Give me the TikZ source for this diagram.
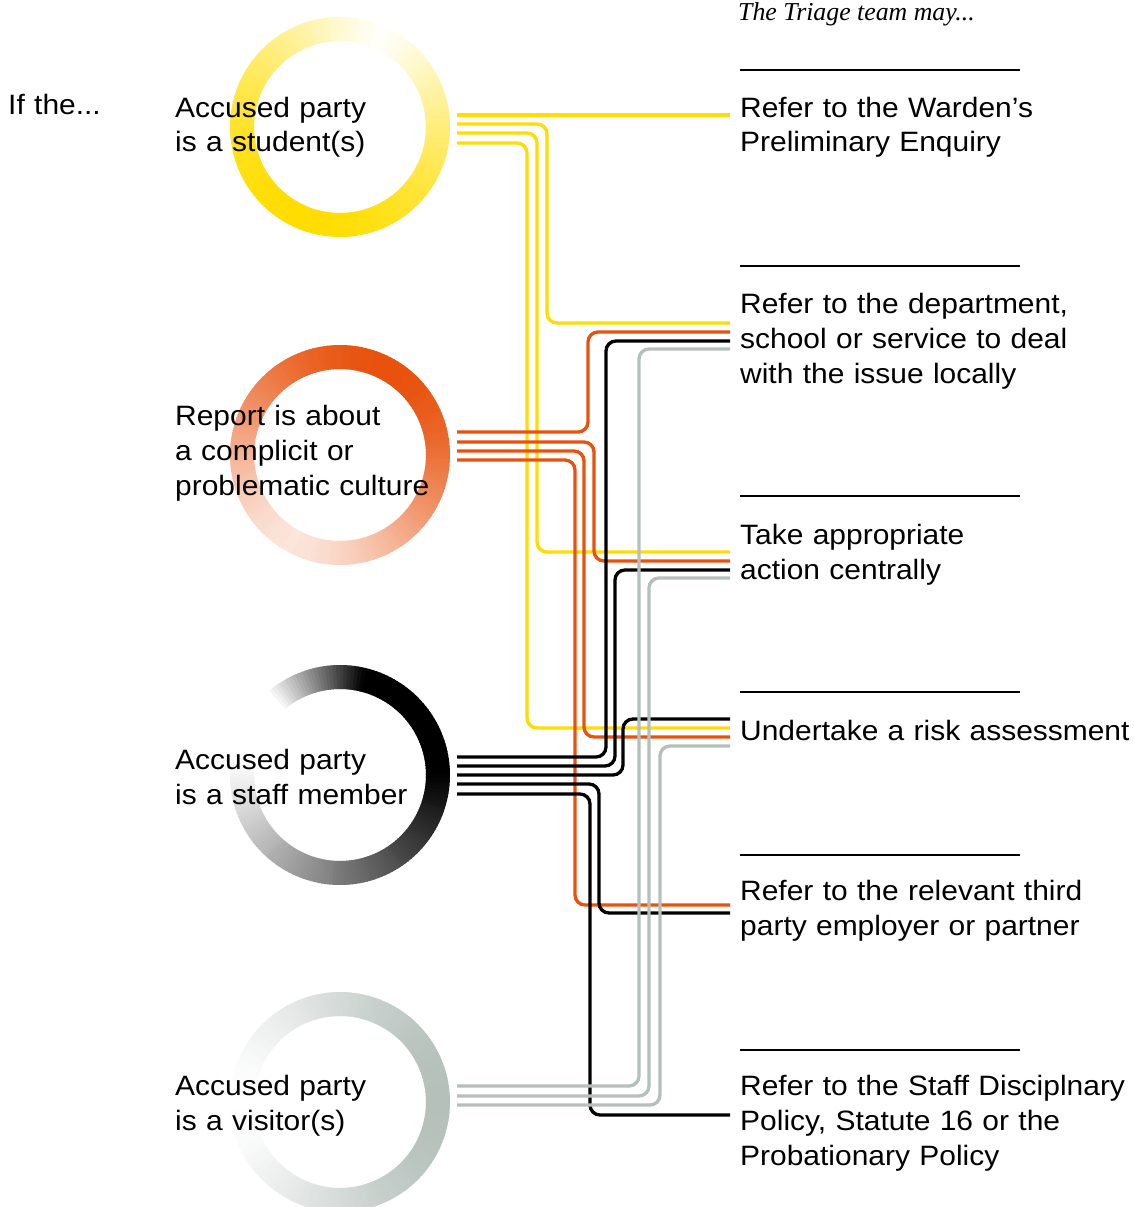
\documentclass[tikz,border=0pt]{standalone}
\usepackage{fontspec}
\setmainfont{Liberation Sans}[FakeStretch=1.07]
\newfontfamily\hdfont{Liberation Serif}
\definecolor{cyel}{RGB}{255,221,0}
\definecolor{cora}{RGB}{232,82,14}
\definecolor{cgry}{RGB}{181,192,187}
\newcommand{\gradring}[4]{%
  \foreach \v in {0,2,...,358}{%
    \pgfmathsetmacro\ii{#4}%
    \pgfmathtruncatemacro\kk{round(100*\ii)}%
    \draw[line width=24pt, draw=#3!\kk!white] (#1,#2) ++(-\v:98) arc[start angle=-\v, delta angle=-2.8, radius=98];
  }}
\begin{document}
\begin{tikzpicture}[x=1pt,y=-1pt,
  route/.style={line width=3.3pt, rounded corners=10pt},
  ylw/.style={route, draw=cyel},
  org/.style={route, draw=cora},
  blk/.style={route, draw=black},
  gry/.style={route, draw=cgry},
  rulebar/.style={line width=2.8pt, draw=black},
  lbl/.style={anchor=base west, inner sep=0pt, text width=420pt, align=left, font=\fontsize{28}{35}\selectfont},
  hdr/.style={anchor=base west, inner sep=0pt, font=\hdfont\itshape\fontsize{25.8}{30}\selectfont}]
\useasboundingbox[fill=white] (0,0) rectangle (1133,1207);

% gradient rings
\gradring{340}{127}{cyel}{pow(0.001+(1+cos(\v-245))/2,0.55)}
\gradring{340}{455}{cora}{0.15+0.85*pow(0.001+(1+cos(\v-60))/2,0.8)}
\gradring{340}{775}{black}{max(0,min(1,(mod(\v+230,360)-40)/190,(360-mod(\v+230,360))/55))}
\gradring{340}{1102}{cgry}{pow(0.001+(1+cos(\v))/2,0.8)}

% start coordinates
\coordinate (ys1) at (457,115);
\coordinate (ys2) at (457,124);
\coordinate (ys3) at (457,133);
\coordinate (ys4) at (457,143);
\coordinate (os1) at (457,432);
\coordinate (os2) at (457,442);
\coordinate (os3) at (457,451);
\coordinate (os4) at (457,460);
\coordinate (bs1) at (457,757);
\coordinate (bs2) at (457,766);
\coordinate (bs3) at (457,775);
\coordinate (bs4) at (457,784);
\coordinate (bs5) at (457,794);
\coordinate (gs1) at (457,1086);
\coordinate (gs2) at (457,1096);
\coordinate (gs3) at (457,1105);
% end coordinates
\coordinate (ye1) at (730,115);
\coordinate (ye2) at (730,323);
\coordinate (ye3) at (730,552);
\coordinate (ye4) at (730,728);
\coordinate (oe1) at (730,332);
\coordinate (oe2) at (730,561);
\coordinate (oe3) at (730,737);
\coordinate (oe4) at (730,905);
\coordinate (be1) at (730,341);
\coordinate (be2) at (730,570);
\coordinate (be3) at (730,719);
\coordinate (be4) at (730,913);
\coordinate (be5) at (730,1115);
\coordinate (ge1) at (730,349);
\coordinate (ge2) at (730,578);
\coordinate (ge3) at (730,746);

% yellow routes
\draw[ylw] (ys1) -- (ye1);
\draw[ylw] (ys2) -| (547,323) -- (ye2);
\draw[ylw] (ys3) -| (537,552) -- (ye3);
\draw[ylw] (ys4) -| (527,728) -- (ye4);
% orange routes
\draw[org] (os1) -| (588,332) -- (oe1);
\draw[org] (os2) -| (594,561) -- (oe2);
\draw[org] (os3) -| (584,737) -- (oe3);
\draw[org] (os4) -| (575,905) -- (oe4);
% black routes
\draw[blk] (bs1) -| (606,341) -- (be1);
\draw[blk] (bs2) -| (615,570) -- (be2);
\draw[blk] (bs3) -| (623,719) -- (be3);
\draw[blk] (bs4) -| (599,913) -- (be4);
\draw[blk] (bs5) -| (590,1115) -- (be5);
% grey routes
\draw[gry] (gs1) -| (639,349) -- (ge1);
\draw[gry] (gs2) -| (649,578) -- (ge2);
\draw[gry] (gs3) -| (660,746) -- (ge3);

% rules
\foreach \yy in {70,266,496,692,855,1050}{\draw[rulebar] (740,\yy) -- (1020,\yy);}

% texts
\node[hdr] (head) at (738,21) {The Triage team may...};
\node[lbl] (ifthe) at (8,114) {If the...};
\node[lbl] (src1) at (175,117) {Accused party\\is a student(s)};
\node[lbl] (src2) at (175,425) {Report is about\\a complicit or\\problematic culture};
\node[lbl] (src3) at (175,769) {Accused party\\is a staff member};
\node[lbl] (src4) at (175,1095) {Accused party\\is a visitor(s)};
\node[lbl] (dst1) at (740,117) {Refer to the Warden’s\\Preliminary Enquiry};
\node[lbl] (dst2) at (740,313) {Refer to the department,\\school or service to deal\\with the issue locally};
\node[lbl] (dst3) at (740,544) {Take appropriate\\action centrally};
\node[lbl] (dst4) at (740,740) {Undertake a risk assessment};
\node[lbl] (dst5) at (740,900) {Refer to the relevant third\\party employer or partner};
\node[lbl] (dst6) at (740,1095) {Refer to the Staff Disciplnary\\Policy, Statute 16 or the\\Probationary Policy};
\end{tikzpicture}
\end{document}
